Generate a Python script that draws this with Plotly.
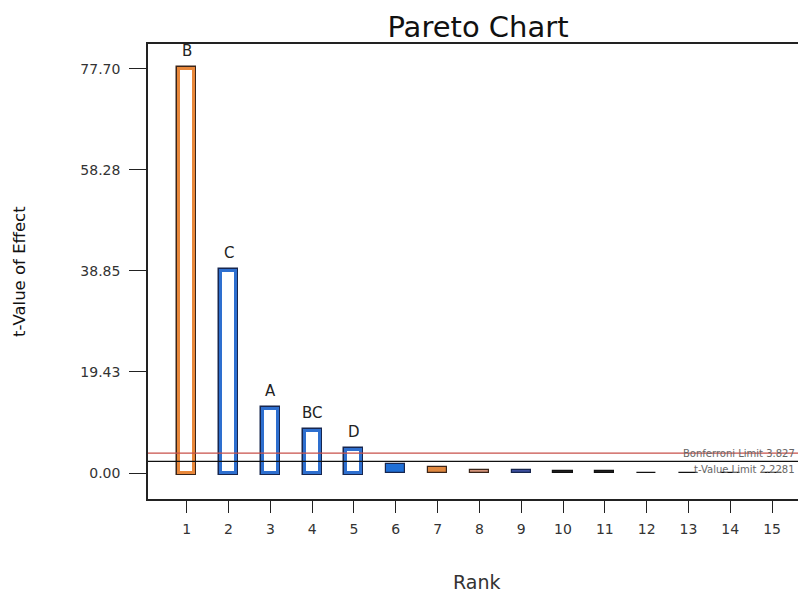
import plotly.graph_objects as go

# ---- data ----
ranks = list(range(1, 16))
t_values = [77.70, 38.80, 12.40, 8.00, 4.40, 1.70, 1.20, 0.60, 0.50, 0.30, 0.30, 0.08, 0.05, 0.0, 0.0]
effect_labels = ["B", "C", "A", "BC", "D", "", "", "", "", "", "", "", "", "", ""]
bar_colors = ["#E8873A", "#2E6FCF", "#2E6FCF", "#2E6FCF", "#2E6FCF",
              "#1F6FD6", "#E0883F", "#D4937A", "#3D4F9F", "#222222",
              "#222222", "#333333", "#333333", "#333333", "#333333"]
outline_colors = ["#3A2418", "#17264F", "#17264F", "#17264F", "#17264F",
                  "#17264F", "#3A2418", "#3A2418", "#17264F", "#111111",
                  "#111111", "#111111", "#111111", "#111111", "#111111"]
n_labeled = 5
bonferroni_limit = 3.82773
t_limit = 2.22814
bonferroni_text = "Bonferroni Limit 3.827"
t_limit_text = "t-Value Limit 2.2281"
y_tick_vals = [0.0, 19.425, 38.85, 58.275, 77.70]
y_tick_text = ["0.00", "19.43", "38.85", "58.28", "77.70"]

FONT = "DejaVu Sans, Liberation Sans, Arial, sans-serif"

fig = go.Figure()

# hollow (labelled) bars: dark outline underneath, coloured frame on top
fig.add_trace(go.Bar(
    x=ranks[:n_labeled], y=t_values[:n_labeled], width=0.36,
    marker=dict(color="white", line=dict(color=outline_colors[:n_labeled], width=5.5)),
    hoverinfo="skip", showlegend=False))
fig.add_trace(go.Bar(
    x=ranks[:n_labeled], y=t_values[:n_labeled], width=0.36,
    marker=dict(color="white", line=dict(color=bar_colors[:n_labeled], width=3)),
    showlegend=False))
# filled small bars
fig.add_trace(go.Bar(
    x=ranks[n_labeled:], y=t_values[n_labeled:], width=0.46,
    marker=dict(color=bar_colors[n_labeled:], line=dict(color=outline_colors[n_labeled:], width=1.2)),
    showlegend=False))

# effect labels above bars
for r, v, lab in zip(ranks, t_values, effect_labels):
    if lab:
        fig.add_annotation(x=r, y=v, text=lab, showarrow=False, yanchor="bottom",
                           yshift=7, font=dict(family=FONT, size=15, color="#222"))

# limit lines
fig.add_shape(type="line", xref="paper", x0=0, x1=1, yref="y", y0=bonferroni_limit,
              y1=bonferroni_limit, line=dict(color="#C8504A", width=1.3), layer="above")
fig.add_shape(type="line", xref="paper", x0=0, x1=1, yref="y", y0=t_limit,
              y1=t_limit, line=dict(color="#111111", width=1.3), layer="above")
fig.add_annotation(xref="paper", x=1, xshift=-1, y=t_limit, yanchor="bottom", yshift=0,
                   xanchor="right", text=bonferroni_text, showarrow=False,
                   font=dict(family=FONT, size=10, color="#666"))
fig.add_annotation(xref="paper", x=1, xshift=-1, y=t_limit, yanchor="top", yshift=-1,
                   xanchor="right", text=t_limit_text, showarrow=False,
                   font=dict(family=FONT, size=10, color="#666"))

# axis titles
fig.add_annotation(xref="paper", yref="paper", x=(19.5 - 148) / 650, y=0.5,
                   text="t-Value of Effect", textangle=-90, showarrow=False,
                   xanchor="center", yanchor="middle",
                   font=dict(family=FONT, size=16.5, color="#111"))
fig.add_annotation(xref="paper", yref="paper", x=(476 - 148) / 650, y=-(582 - 499) / 455,
                   text="Rank", showarrow=False, xanchor="center", yanchor="middle",
                   font=dict(family=FONT, size=19, color="#333"))

fig.update_layout(
    width=798, height=595,
    margin=dict(l=148, r=0, t=44, b=96),
    paper_bgcolor="white", plot_bgcolor="white",
    barmode="overlay",
    bargap=0,
    title=dict(text="Pareto Chart", xref="paper", x=(478 - 148) / 650, xanchor="center",
               yref="container", y=1 - 27 / 595, yanchor="middle",
               font=dict(family=FONT, size=29, color="#111")),
    font=dict(family=FONT, color="#333"),
    xaxis=dict(range=[0.074, 15.62], tickmode="array", tickvals=ranks,
               ticks="outside", ticklen=12, tickcolor="#222", tickwidth=1.3,
               ticklabelstandoff=4,
               showline=True, linecolor="#222", linewidth=1.5, mirror=True,
               showgrid=False, zeroline=False,
               tickfont=dict(family=FONT, size=14, color="#333")),
    yaxis=dict(range=[-5.0, 82.5], tickmode="array", tickvals=y_tick_vals,
               ticktext=y_tick_text, ticks="outside", ticklen=17, tickcolor="#222",
               tickwidth=1.3, ticklabelstandoff=6, showline=True, linecolor="#222",
               linewidth=1.5, showgrid=False, zeroline=False,
               tickfont=dict(family=FONT, size=14, color="#333")),
)

fig.write_html("out.html")
